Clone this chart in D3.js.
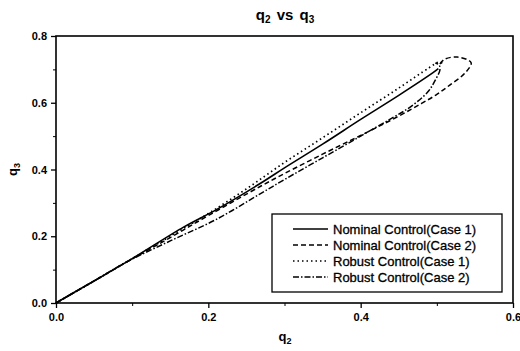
<!DOCTYPE html>
<html>
<head>
<meta charset="utf-8">
<script src="https://cdn.jsdelivr.net/npm/d3@7"></script>
<style>
  html, body { margin: 0; padding: 0; background: #fff; }
  text { font-family: "Liberation Sans", Arial, sans-serif; fill: #000; }
</style>
</head>
<body>
<div id="chart"></div>
<script>
// trajectories, [q2, q3]
const nominalCase1 = [[0,0],[0.02,0.027],[0.05,0.066],[0.10,0.133],[0.168,0.228],[0.21,0.279],
    [0.268,0.358],[0.30,0.405],[0.35,0.476],[0.40,0.55],[0.45,0.622],[0.495,0.69],[0.502,0.702]];
const nominalCase2 = [[0,0],[0.05,0.066],[0.10,0.132],[0.15,0.196],[0.20,0.262],[0.268,0.349],
    [0.30,0.388],[0.35,0.446],[0.40,0.502],[0.45,0.56],[0.48,0.598],[0.50,0.625],[0.517,0.653],
    [0.537,0.689],[0.545,0.72],[0.527,0.737],[0.51,0.73],[0.504,0.716]];
const robustCase1 = [[0,0],[0.05,0.066],[0.10,0.133],[0.15,0.2],[0.20,0.268],[0.25,0.342],
    [0.30,0.421],[0.35,0.495],[0.40,0.57],[0.45,0.644],[0.49,0.705],[0.503,0.722],[0.508,0.717]];
const robustCase2 = [[0,0],[0.05,0.066],[0.09,0.12],[0.15,0.186],[0.21,0.25],[0.268,0.327],
    [0.30,0.37],[0.35,0.435],[0.40,0.5],[0.441,0.554],[0.465,0.587],[0.488,0.632],[0.498,0.668],
    [0.504,0.698],[0.503,0.713],[0.498,0.719]];

const seriesNames = ["Nominal Control(Case 1)", "Nominal Control(Case 2)",
    "Robust Control(Case 1)", "Robust Control(Case 2)"];
const xTicks = [0, 0.2, 0.4, 0.6];
const yTicks = [0, 0.2, 0.4, 0.6, 0.8];

const svg = { width: 520, height: 351, margin: { top: 36, right: 7, bottom: 48, left: 56 } };

const series = [
    { name: seriesNames[0], values: nominalCase1, dash: null, width: 1.6 },
    { name: seriesNames[1], values: nominalCase2, dash: "5,3", width: 1.5 },
    { name: seriesNames[2], values: robustCase1, dash: "1.5,3", width: 1.7 },
    { name: seriesNames[3], values: robustCase2, dash: "6,2,1.5,2", width: 1.5 }
];

const xScale = d3.scaleLinear().domain([0, 0.6])
    .range([svg.margin.left, svg.width - svg.margin.right]);
const yScale = d3.scaleLinear().domain([0, 0.8])
    .range([svg.height - svg.margin.bottom, svg.margin.top]);

const chart = d3.select("#chart").append("svg")
    .attr("width", svg.width)
    .attr("height", svg.height);

const x0 = xScale.range()[0], x1 = xScale.range()[1];
const y0 = yScale.range()[0], y1 = yScale.range()[1];

// minor ticks
const fmt = d3.format(".1f");
chart.append("g")
    .attr("transform", `translate(0,${y0})`)
    .call(d3.axisBottom(xScale).tickValues([0.1, 0.3, 0.5]).tickSize(3).tickFormat(""))
    .call(g => g.select(".domain").remove());
chart.append("g")
    .attr("transform", `translate(${x0},0)`)
    .call(d3.axisLeft(yScale).tickValues([0.1, 0.3, 0.5, 0.7]).tickSize(3).tickFormat(""))
    .call(g => g.select(".domain").remove());

// major ticks
const xAxis = chart.append("g")
    .attr("transform", `translate(0,${y0})`)
    .call(d3.axisBottom(xScale).tickValues(xTicks).tickSize(5).tickPadding(5).tickFormat(fmt));
const yAxis = chart.append("g")
    .attr("transform", `translate(${x0},0)`)
    .call(d3.axisLeft(yScale).tickValues(yTicks).tickSize(5).tickPadding(4).tickFormat(fmt));
[xAxis, yAxis].forEach(a => {
    a.select(".domain").remove();
    a.selectAll("line").attr("stroke-width", 1.3);
    a.selectAll("text").attr("font-size", 11).attr("font-weight", "bold")
        .attr("font-family", "'Liberation Sans', Arial, sans-serif");
});
chart.selectAll("g.tick line").attr("stroke", "#000");

// frame
chart.append("rect")
    .attr("x", x0).attr("y", y1)
    .attr("width", x1 - x0).attr("height", y0 - y1)
    .attr("fill", "none").attr("stroke", "#000").attr("stroke-width", 1.6);

const line = d3.line()
    .x(d => xScale(d[0]))
    .y(d => yScale(d[1]))
    .curve(d3.curveCatmullRom.alpha(0.5));

chart.append("g").selectAll("path")
    .data(series)
    .join("path")
    .attr("d", d => line(d.values))
    .attr("fill", "none")
    .attr("stroke", "#000")
    .attr("stroke-width", d => d.width)
    .attr("stroke-dasharray", d => d.dash)
    .attr("stroke-linecap", "butt");

// legend
const legend = chart.append("g");
legend.append("rect")
    .attr("x", 272).attr("y", 214).attr("width", 230).attr("height", 78)
    .attr("fill", "#fff").attr("stroke", "#000").attr("stroke-width", 1.3);
const rows = legend.selectAll("g.row")
    .data(series)
    .join("g")
    .attr("class", "row")
    .attr("transform", (d, i) => `translate(0,${229 + i * 16})`);
rows.append("line")
    .attr("x1", 293).attr("x2", 328)
    .attr("stroke", "#000")
    .attr("stroke-width", d => d.width)
    .attr("stroke-dasharray", d => d.dash);
rows.append("text")
    .attr("x", 333).attr("dy", "0.36em")
    .attr("font-size", 13)
    .attr("stroke", "#000").attr("stroke-width", 0.3)
    .text(d => d.name);

// title and axis labels
const title = chart.append("text")
    .attr("x", 285).attr("y", 20)
    .attr("text-anchor", "middle")
    .attr("font-size", 15).attr("font-weight", "bold")
    .attr("word-spacing", 2);
title.append("tspan").text("q");
title.append("tspan").attr("font-size", 10).attr("dy", 3).text("2");
title.append("tspan").attr("dy", -3).text(" vs q");
title.append("tspan").attr("font-size", 10).attr("dy", 3).text("3");

const xLabel = chart.append("text")
    .attr("x", 285).attr("y", 341)
    .attr("text-anchor", "middle")
    .attr("font-size", 13).attr("font-weight", "bold");
xLabel.append("tspan").text("q");
xLabel.append("tspan").attr("font-size", 9).attr("dy", 3).text("2");

const yLabel = chart.append("text")
    .attr("transform", `translate(17,${(y0 + y1) / 2}) rotate(-90)`)
    .attr("text-anchor", "middle")
    .attr("font-size", 13).attr("font-weight", "bold");
yLabel.append("tspan").text("q");
yLabel.append("tspan").attr("font-size", 9).attr("dy", 3).text("3");
</script>
</body>
</html>
